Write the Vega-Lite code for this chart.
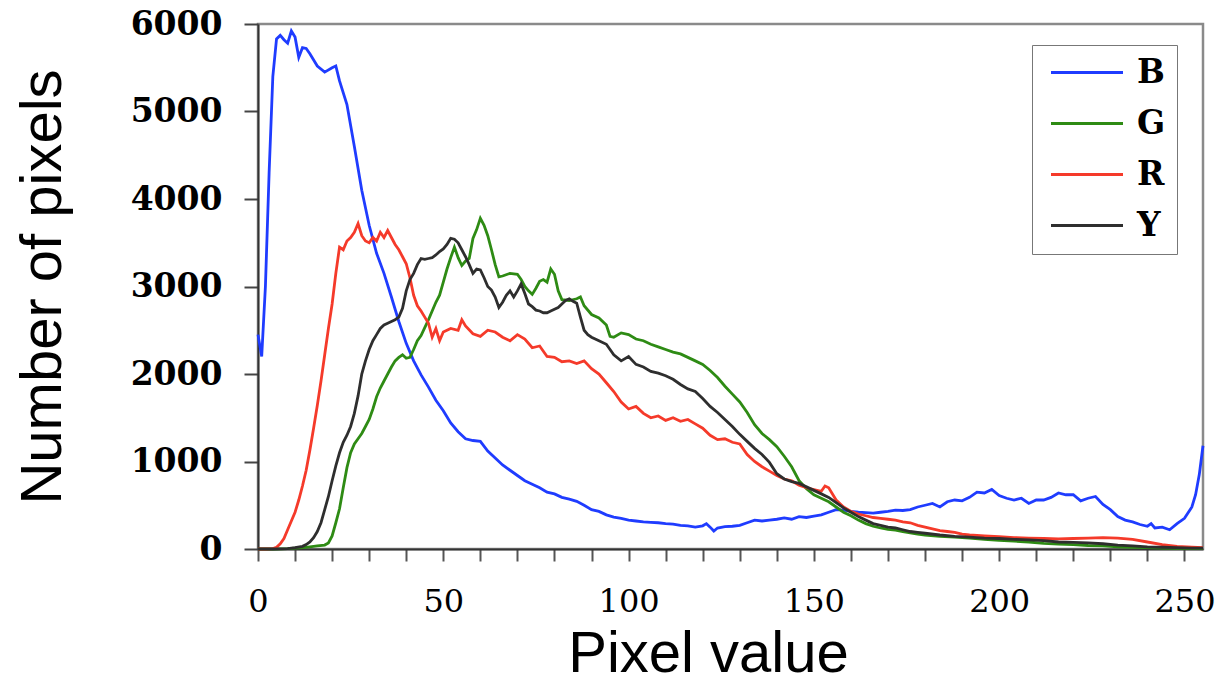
{
  "$schema": "https://vega.github.io/schema/vega-lite/v6.json",
  "width": 945,
  "height": 525,
  "autosize": {"type": "none"},
  "padding": {"left": 258, "top": 24, "right": 18, "bottom": 141},
  "background": "white",
  "config": {"view": {"stroke": "#8a8a8a", "strokeWidth": 2.5}},
  "datasets": {
    "hist": [
      {"s":"B","x":0,"y":2450},{"s":"B","x":1,"y":2200},{"s":"B","x":2,"y":3000},{"s":"B","x":3,"y":4300},{"s":"B","x":4,"y":5400},{"s":"B","x":5,"y":5830},{"s":"B","x":6,"y":5870},{"s":"B","x":7,"y":5820},{"s":"B","x":8,"y":5780},{"s":"B","x":9,"y":5920},{"s":"B","x":10,"y":5850},{"s":"B","x":11,"y":5620},{"s":"B","x":12,"y":5730},{"s":"B","x":13,"y":5720},{"s":"B","x":14,"y":5660},{"s":"B","x":16,"y":5520},{"s":"B","x":18,"y":5450},{"s":"B","x":20,"y":5500},{"s":"B","x":21,"y":5520},{"s":"B","x":22,"y":5350},{"s":"B","x":24,"y":5080},{"s":"B","x":26,"y":4600},{"s":"B","x":28,"y":4100},{"s":"B","x":30,"y":3700},{"s":"B","x":32,"y":3380},{"s":"B","x":34,"y":3150},{"s":"B","x":36,"y":2880},{"s":"B","x":38,"y":2600},{"s":"B","x":40,"y":2350},{"s":"B","x":42,"y":2150},{"s":"B","x":44,"y":1990},{"s":"B","x":46,"y":1850},{"s":"B","x":48,"y":1700},{"s":"B","x":50,"y":1580},{"s":"B","x":52,"y":1440},{"s":"B","x":54,"y":1340},{"s":"B","x":56,"y":1260},{"s":"B","x":58,"y":1240},{"s":"B","x":60,"y":1230},{"s":"B","x":62,"y":1120},{"s":"B","x":64,"y":1040},{"s":"B","x":66,"y":960},{"s":"B","x":68,"y":900},{"s":"B","x":70,"y":840},{"s":"B","x":72,"y":780},{"s":"B","x":74,"y":740},{"s":"B","x":76,"y":700},{"s":"B","x":78,"y":650},{"s":"B","x":80,"y":630},{"s":"B","x":82,"y":590},{"s":"B","x":84,"y":570},{"s":"B","x":86,"y":545},{"s":"B","x":88,"y":500},{"s":"B","x":90,"y":450},{"s":"B","x":92,"y":430},{"s":"B","x":94,"y":390},{"s":"B","x":96,"y":365},{"s":"B","x":98,"y":350},{"s":"B","x":100,"y":330},{"s":"B","x":102,"y":320},{"s":"B","x":104,"y":310},{"s":"B","x":106,"y":305},{"s":"B","x":108,"y":300},{"s":"B","x":110,"y":290},{"s":"B","x":112,"y":285},{"s":"B","x":114,"y":270},{"s":"B","x":116,"y":265},{"s":"B","x":118,"y":250},{"s":"B","x":120,"y":265},{"s":"B","x":121,"y":290},{"s":"B","x":122,"y":250},{"s":"B","x":123,"y":205},{"s":"B","x":124,"y":240},{"s":"B","x":126,"y":255},{"s":"B","x":128,"y":260},{"s":"B","x":130,"y":270},{"s":"B","x":132,"y":300},{"s":"B","x":134,"y":330},{"s":"B","x":136,"y":320},{"s":"B","x":138,"y":330},{"s":"B","x":140,"y":340},{"s":"B","x":142,"y":355},{"s":"B","x":144,"y":340},{"s":"B","x":146,"y":370},{"s":"B","x":148,"y":360},{"s":"B","x":150,"y":375},{"s":"B","x":152,"y":390},{"s":"B","x":154,"y":420},{"s":"B","x":156,"y":450},{"s":"B","x":158,"y":445},{"s":"B","x":160,"y":430},{"s":"B","x":162,"y":420},{"s":"B","x":164,"y":415},{"s":"B","x":166,"y":410},{"s":"B","x":168,"y":420},{"s":"B","x":170,"y":430},{"s":"B","x":172,"y":445},{"s":"B","x":174,"y":440},{"s":"B","x":176,"y":450},{"s":"B","x":178,"y":480},{"s":"B","x":180,"y":500},{"s":"B","x":182,"y":520},{"s":"B","x":184,"y":480},{"s":"B","x":186,"y":540},{"s":"B","x":188,"y":560},{"s":"B","x":190,"y":550},{"s":"B","x":192,"y":590},{"s":"B","x":194,"y":650},{"s":"B","x":196,"y":640},{"s":"B","x":198,"y":680},{"s":"B","x":200,"y":610},{"s":"B","x":202,"y":580},{"s":"B","x":204,"y":560},{"s":"B","x":206,"y":580},{"s":"B","x":208,"y":520},{"s":"B","x":210,"y":560},{"s":"B","x":212,"y":560},{"s":"B","x":214,"y":590},{"s":"B","x":216,"y":640},{"s":"B","x":218,"y":620},{"s":"B","x":220,"y":620},{"s":"B","x":222,"y":550},{"s":"B","x":224,"y":580},{"s":"B","x":226,"y":600},{"s":"B","x":228,"y":510},{"s":"B","x":230,"y":450},{"s":"B","x":232,"y":370},{"s":"B","x":234,"y":330},{"s":"B","x":236,"y":310},{"s":"B","x":238,"y":280},{"s":"B","x":240,"y":260},{"s":"B","x":241,"y":290},{"s":"B","x":242,"y":240},{"s":"B","x":244,"y":250},{"s":"B","x":246,"y":220},{"s":"B","x":248,"y":290},{"s":"B","x":250,"y":350},{"s":"B","x":252,"y":480},{"s":"B","x":253,"y":620},{"s":"B","x":254,"y":850},{"s":"B","x":255,"y":1180},

      {"s":"G","x":0,"y":0},{"s":"G","x":4,"y":0},{"s":"G","x":8,"y":5},{"s":"G","x":12,"y":15},{"s":"G","x":14,"y":25},{"s":"G","x":16,"y":35},{"s":"G","x":18,"y":45},{"s":"G","x":19,"y":70},{"s":"G","x":20,"y":150},{"s":"G","x":21,"y":300},{"s":"G","x":22,"y":460},{"s":"G","x":23,"y":700},{"s":"G","x":24,"y":930},{"s":"G","x":25,"y":1100},{"s":"G","x":26,"y":1200},{"s":"G","x":27,"y":1260},{"s":"G","x":28,"y":1320},{"s":"G","x":29,"y":1400},{"s":"G","x":30,"y":1480},{"s":"G","x":31,"y":1600},{"s":"G","x":32,"y":1740},{"s":"G","x":33,"y":1840},{"s":"G","x":34,"y":1920},{"s":"G","x":35,"y":2000},{"s":"G","x":36,"y":2080},{"s":"G","x":37,"y":2150},{"s":"G","x":38,"y":2190},{"s":"G","x":39,"y":2220},{"s":"G","x":40,"y":2180},{"s":"G","x":41,"y":2190},{"s":"G","x":42,"y":2280},{"s":"G","x":43,"y":2380},{"s":"G","x":44,"y":2440},{"s":"G","x":45,"y":2530},{"s":"G","x":46,"y":2620},{"s":"G","x":47,"y":2720},{"s":"G","x":48,"y":2820},{"s":"G","x":49,"y":2900},{"s":"G","x":50,"y":3050},{"s":"G","x":51,"y":3200},{"s":"G","x":52,"y":3330},{"s":"G","x":53,"y":3450},{"s":"G","x":54,"y":3330},{"s":"G","x":55,"y":3240},{"s":"G","x":56,"y":3290},{"s":"G","x":57,"y":3320},{"s":"G","x":58,"y":3550},{"s":"G","x":59,"y":3650},{"s":"G","x":60,"y":3780},{"s":"G","x":61,"y":3700},{"s":"G","x":62,"y":3580},{"s":"G","x":63,"y":3420},{"s":"G","x":64,"y":3250},{"s":"G","x":65,"y":3110},{"s":"G","x":66,"y":3120},{"s":"G","x":68,"y":3150},{"s":"G","x":70,"y":3140},{"s":"G","x":71,"y":3080},{"s":"G","x":72,"y":3000},{"s":"G","x":73,"y":2950},{"s":"G","x":74,"y":2910},{"s":"G","x":75,"y":2980},{"s":"G","x":76,"y":3060},{"s":"G","x":77,"y":3080},{"s":"G","x":78,"y":3050},{"s":"G","x":79,"y":3200},{"s":"G","x":80,"y":3140},{"s":"G","x":81,"y":2950},{"s":"G","x":82,"y":2850},{"s":"G","x":84,"y":2840},{"s":"G","x":86,"y":2860},{"s":"G","x":87,"y":2880},{"s":"G","x":88,"y":2780},{"s":"G","x":90,"y":2680},{"s":"G","x":92,"y":2640},{"s":"G","x":94,"y":2560},{"s":"G","x":95,"y":2430},{"s":"G","x":96,"y":2420},{"s":"G","x":98,"y":2470},{"s":"G","x":100,"y":2450},{"s":"G","x":102,"y":2400},{"s":"G","x":104,"y":2380},{"s":"G","x":106,"y":2340},{"s":"G","x":108,"y":2310},{"s":"G","x":110,"y":2280},{"s":"G","x":112,"y":2250},{"s":"G","x":114,"y":2230},{"s":"G","x":116,"y":2190},{"s":"G","x":118,"y":2150},{"s":"G","x":120,"y":2110},{"s":"G","x":122,"y":2040},{"s":"G","x":124,"y":1960},{"s":"G","x":126,"y":1860},{"s":"G","x":128,"y":1770},{"s":"G","x":130,"y":1680},{"s":"G","x":132,"y":1560},{"s":"G","x":134,"y":1420},{"s":"G","x":136,"y":1320},{"s":"G","x":138,"y":1250},{"s":"G","x":140,"y":1170},{"s":"G","x":142,"y":1060},{"s":"G","x":144,"y":940},{"s":"G","x":146,"y":780},{"s":"G","x":148,"y":690},{"s":"G","x":150,"y":620},{"s":"G","x":152,"y":580},{"s":"G","x":154,"y":540},{"s":"G","x":156,"y":480},{"s":"G","x":158,"y":420},{"s":"G","x":160,"y":380},{"s":"G","x":162,"y":330},{"s":"G","x":164,"y":290},{"s":"G","x":166,"y":260},{"s":"G","x":168,"y":240},{"s":"G","x":170,"y":225},{"s":"G","x":172,"y":215},{"s":"G","x":174,"y":200},{"s":"G","x":176,"y":185},{"s":"G","x":178,"y":170},{"s":"G","x":180,"y":160},{"s":"G","x":184,"y":145},{"s":"G","x":188,"y":135},{"s":"G","x":192,"y":125},{"s":"G","x":196,"y":110},{"s":"G","x":200,"y":100},{"s":"G","x":204,"y":90},{"s":"G","x":208,"y":80},{"s":"G","x":212,"y":65},{"s":"G","x":216,"y":55},{"s":"G","x":220,"y":50},{"s":"G","x":224,"y":40},{"s":"G","x":228,"y":35},{"s":"G","x":232,"y":25},{"s":"G","x":236,"y":20},{"s":"G","x":240,"y":15},{"s":"G","x":244,"y":10},{"s":"G","x":248,"y":8},{"s":"G","x":252,"y":5},{"s":"G","x":255,"y":5},

      {"s":"R","x":0,"y":0},{"s":"R","x":2,"y":0},{"s":"R","x":4,"y":5},{"s":"R","x":5,"y":20},{"s":"R","x":6,"y":60},{"s":"R","x":7,"y":120},{"s":"R","x":8,"y":220},{"s":"R","x":9,"y":320},{"s":"R","x":10,"y":420},{"s":"R","x":11,"y":560},{"s":"R","x":12,"y":720},{"s":"R","x":13,"y":900},{"s":"R","x":14,"y":1130},{"s":"R","x":15,"y":1380},{"s":"R","x":16,"y":1640},{"s":"R","x":17,"y":1920},{"s":"R","x":18,"y":2220},{"s":"R","x":19,"y":2520},{"s":"R","x":20,"y":2800},{"s":"R","x":21,"y":3150},{"s":"R","x":22,"y":3450},{"s":"R","x":23,"y":3420},{"s":"R","x":24,"y":3520},{"s":"R","x":25,"y":3560},{"s":"R","x":26,"y":3620},{"s":"R","x":27,"y":3720},{"s":"R","x":28,"y":3580},{"s":"R","x":29,"y":3520},{"s":"R","x":30,"y":3500},{"s":"R","x":31,"y":3560},{"s":"R","x":32,"y":3520},{"s":"R","x":33,"y":3620},{"s":"R","x":34,"y":3560},{"s":"R","x":35,"y":3640},{"s":"R","x":36,"y":3560},{"s":"R","x":37,"y":3480},{"s":"R","x":38,"y":3420},{"s":"R","x":39,"y":3340},{"s":"R","x":40,"y":3260},{"s":"R","x":41,"y":3100},{"s":"R","x":42,"y":2900},{"s":"R","x":43,"y":2780},{"s":"R","x":44,"y":2720},{"s":"R","x":45,"y":2650},{"s":"R","x":46,"y":2580},{"s":"R","x":47,"y":2420},{"s":"R","x":48,"y":2520},{"s":"R","x":49,"y":2380},{"s":"R","x":50,"y":2480},{"s":"R","x":52,"y":2520},{"s":"R","x":54,"y":2500},{"s":"R","x":55,"y":2620},{"s":"R","x":56,"y":2550},{"s":"R","x":58,"y":2460},{"s":"R","x":60,"y":2430},{"s":"R","x":62,"y":2500},{"s":"R","x":64,"y":2480},{"s":"R","x":66,"y":2420},{"s":"R","x":68,"y":2380},{"s":"R","x":70,"y":2450},{"s":"R","x":72,"y":2400},{"s":"R","x":74,"y":2300},{"s":"R","x":76,"y":2320},{"s":"R","x":78,"y":2200},{"s":"R","x":80,"y":2190},{"s":"R","x":82,"y":2140},{"s":"R","x":84,"y":2150},{"s":"R","x":86,"y":2120},{"s":"R","x":88,"y":2150},{"s":"R","x":90,"y":2060},{"s":"R","x":92,"y":2000},{"s":"R","x":94,"y":1900},{"s":"R","x":96,"y":1800},{"s":"R","x":98,"y":1680},{"s":"R","x":100,"y":1600},{"s":"R","x":102,"y":1630},{"s":"R","x":104,"y":1550},{"s":"R","x":106,"y":1500},{"s":"R","x":108,"y":1520},{"s":"R","x":110,"y":1470},{"s":"R","x":112,"y":1500},{"s":"R","x":114,"y":1460},{"s":"R","x":116,"y":1480},{"s":"R","x":118,"y":1430},{"s":"R","x":120,"y":1380},{"s":"R","x":122,"y":1300},{"s":"R","x":124,"y":1250},{"s":"R","x":126,"y":1260},{"s":"R","x":128,"y":1220},{"s":"R","x":130,"y":1200},{"s":"R","x":132,"y":1080},{"s":"R","x":134,"y":1000},{"s":"R","x":136,"y":940},{"s":"R","x":138,"y":890},{"s":"R","x":140,"y":840},{"s":"R","x":142,"y":800},{"s":"R","x":144,"y":780},{"s":"R","x":146,"y":730},{"s":"R","x":148,"y":700},{"s":"R","x":150,"y":680},{"s":"R","x":152,"y":660},{"s":"R","x":153,"y":720},{"s":"R","x":154,"y":700},{"s":"R","x":156,"y":560},{"s":"R","x":158,"y":480},{"s":"R","x":160,"y":430},{"s":"R","x":162,"y":400},{"s":"R","x":164,"y":380},{"s":"R","x":166,"y":360},{"s":"R","x":168,"y":350},{"s":"R","x":170,"y":340},{"s":"R","x":172,"y":330},{"s":"R","x":174,"y":310},{"s":"R","x":176,"y":300},{"s":"R","x":178,"y":270},{"s":"R","x":180,"y":250},{"s":"R","x":182,"y":230},{"s":"R","x":184,"y":210},{"s":"R","x":186,"y":200},{"s":"R","x":188,"y":190},{"s":"R","x":190,"y":170},{"s":"R","x":192,"y":160},{"s":"R","x":196,"y":150},{"s":"R","x":200,"y":140},{"s":"R","x":204,"y":130},{"s":"R","x":208,"y":125},{"s":"R","x":212,"y":120},{"s":"R","x":216,"y":115},{"s":"R","x":220,"y":120},{"s":"R","x":224,"y":125},{"s":"R","x":228,"y":130},{"s":"R","x":232,"y":125},{"s":"R","x":236,"y":110},{"s":"R","x":240,"y":80},{"s":"R","x":244,"y":50},{"s":"R","x":248,"y":30},{"s":"R","x":252,"y":20},{"s":"R","x":255,"y":15},

      {"s":"Y","x":0,"y":0},{"s":"Y","x":4,"y":0},{"s":"Y","x":8,"y":5},{"s":"Y","x":10,"y":15},{"s":"Y","x":12,"y":30},{"s":"Y","x":13,"y":50},{"s":"Y","x":14,"y":80},{"s":"Y","x":15,"y":130},{"s":"Y","x":16,"y":200},{"s":"Y","x":17,"y":300},{"s":"Y","x":18,"y":450},{"s":"Y","x":19,"y":600},{"s":"Y","x":20,"y":780},{"s":"Y","x":21,"y":950},{"s":"Y","x":22,"y":1100},{"s":"Y","x":23,"y":1220},{"s":"Y","x":24,"y":1300},{"s":"Y","x":25,"y":1400},{"s":"Y","x":26,"y":1550},{"s":"Y","x":27,"y":1750},{"s":"Y","x":28,"y":2000},{"s":"Y","x":29,"y":2150},{"s":"Y","x":30,"y":2280},{"s":"Y","x":31,"y":2380},{"s":"Y","x":32,"y":2450},{"s":"Y","x":33,"y":2520},{"s":"Y","x":34,"y":2560},{"s":"Y","x":35,"y":2580},{"s":"Y","x":36,"y":2600},{"s":"Y","x":37,"y":2620},{"s":"Y","x":38,"y":2650},{"s":"Y","x":39,"y":2750},{"s":"Y","x":40,"y":2950},{"s":"Y","x":41,"y":3080},{"s":"Y","x":42,"y":3150},{"s":"Y","x":43,"y":3250},{"s":"Y","x":44,"y":3320},{"s":"Y","x":45,"y":3310},{"s":"Y","x":46,"y":3320},{"s":"Y","x":47,"y":3330},{"s":"Y","x":48,"y":3360},{"s":"Y","x":49,"y":3400},{"s":"Y","x":50,"y":3430},{"s":"Y","x":51,"y":3480},{"s":"Y","x":52,"y":3550},{"s":"Y","x":53,"y":3540},{"s":"Y","x":54,"y":3500},{"s":"Y","x":55,"y":3420},{"s":"Y","x":56,"y":3340},{"s":"Y","x":57,"y":3250},{"s":"Y","x":58,"y":3150},{"s":"Y","x":59,"y":3200},{"s":"Y","x":60,"y":3190},{"s":"Y","x":61,"y":3100},{"s":"Y","x":62,"y":3000},{"s":"Y","x":63,"y":2960},{"s":"Y","x":64,"y":2880},{"s":"Y","x":65,"y":2760},{"s":"Y","x":66,"y":2820},{"s":"Y","x":67,"y":2900},{"s":"Y","x":68,"y":2950},{"s":"Y","x":69,"y":2880},{"s":"Y","x":70,"y":2950},{"s":"Y","x":71,"y":3030},{"s":"Y","x":72,"y":2920},{"s":"Y","x":73,"y":2800},{"s":"Y","x":74,"y":2770},{"s":"Y","x":75,"y":2730},{"s":"Y","x":76,"y":2720},{"s":"Y","x":77,"y":2700},{"s":"Y","x":78,"y":2700},{"s":"Y","x":79,"y":2720},{"s":"Y","x":80,"y":2740},{"s":"Y","x":81,"y":2760},{"s":"Y","x":82,"y":2800},{"s":"Y","x":83,"y":2840},{"s":"Y","x":84,"y":2860},{"s":"Y","x":85,"y":2830},{"s":"Y","x":86,"y":2810},{"s":"Y","x":87,"y":2650},{"s":"Y","x":88,"y":2500},{"s":"Y","x":89,"y":2450},{"s":"Y","x":90,"y":2420},{"s":"Y","x":92,"y":2380},{"s":"Y","x":94,"y":2340},{"s":"Y","x":96,"y":2220},{"s":"Y","x":98,"y":2150},{"s":"Y","x":100,"y":2200},{"s":"Y","x":102,"y":2110},{"s":"Y","x":104,"y":2080},{"s":"Y","x":106,"y":2030},{"s":"Y","x":108,"y":2010},{"s":"Y","x":110,"y":1980},{"s":"Y","x":112,"y":1940},{"s":"Y","x":114,"y":1880},{"s":"Y","x":116,"y":1830},{"s":"Y","x":118,"y":1800},{"s":"Y","x":120,"y":1720},{"s":"Y","x":122,"y":1630},{"s":"Y","x":124,"y":1560},{"s":"Y","x":126,"y":1480},{"s":"Y","x":128,"y":1400},{"s":"Y","x":130,"y":1310},{"s":"Y","x":132,"y":1230},{"s":"Y","x":134,"y":1150},{"s":"Y","x":136,"y":1080},{"s":"Y","x":138,"y":990},{"s":"Y","x":140,"y":860},{"s":"Y","x":142,"y":800},{"s":"Y","x":144,"y":770},{"s":"Y","x":146,"y":750},{"s":"Y","x":148,"y":710},{"s":"Y","x":150,"y":670},{"s":"Y","x":152,"y":630},{"s":"Y","x":154,"y":590},{"s":"Y","x":156,"y":530},{"s":"Y","x":158,"y":470},{"s":"Y","x":160,"y":420},{"s":"Y","x":162,"y":370},{"s":"Y","x":164,"y":330},{"s":"Y","x":166,"y":290},{"s":"Y","x":168,"y":270},{"s":"Y","x":170,"y":250},{"s":"Y","x":172,"y":240},{"s":"Y","x":174,"y":220},{"s":"Y","x":176,"y":200},{"s":"Y","x":178,"y":190},{"s":"Y","x":180,"y":180},{"s":"Y","x":184,"y":160},{"s":"Y","x":188,"y":145},{"s":"Y","x":192,"y":135},{"s":"Y","x":196,"y":125},{"s":"Y","x":200,"y":120},{"s":"Y","x":204,"y":110},{"s":"Y","x":208,"y":105},{"s":"Y","x":212,"y":95},{"s":"Y","x":216,"y":80},{"s":"Y","x":220,"y":75},{"s":"Y","x":224,"y":70},{"s":"Y","x":228,"y":60},{"s":"Y","x":232,"y":45},{"s":"Y","x":236,"y":35},{"s":"Y","x":240,"y":25},{"s":"Y","x":244,"y":20},{"s":"Y","x":248,"y":15},{"s":"Y","x":252,"y":10},{"s":"Y","x":255,"y":10}
    ]
  },
  "data": {"name": "hist"},
  "mark": {"type": "line", "strokeWidth": 2.8, "interpolate": "linear"},
  "encoding": {
    "x": {
      "field": "x", "type": "quantitative",
      "scale": {"domain": [0, 255], "nice": false, "zero": false},
      "axis": {
        "title": "Pixel value",
        "values": [0,10,20,30,40,50,60,70,80,90,100,110,120,130,140,150,160,170,180,190,200,210,220,230,240,250],
        "labelExpr": "datum.value % 50 === 0 ? datum.label : ''",
        "labelOverlap": false, "labelFlush": false,
        "grid": false, "tickSize": 12, "tickWidth": 2, "tickColor": "#555",
        "domainColor": "#333", "domainWidth": 2,
        "labelFont": "DejaVu Serif", "labelFontSize": 32, "labelColor": "#000", "labelPadding": 25,
        "titleFont": "Liberation Sans", "titleFontSize": 58, "titleFontWeight": "normal", "titleColor": "#000",
        "titlePadding": 8, "titleX": 450
      }
    },
    "y": {
      "field": "y", "type": "quantitative",
      "scale": {"domain": [0, 6000], "nice": false},
      "axis": {
        "title": "Number of pixels",
        "values": [0,1000,2000,3000,4000,5000,6000],
        "format": "d",
        "labelOverlap": false, "labelFlush": false,
        "grid": false, "tickSize": 14, "tickWidth": 2, "tickColor": "#444",
        "domainColor": "#333", "domainWidth": 2,
        "labelFont": "DejaVu Serif", "labelFontWeight": "bold", "labelFontSize": 33, "labelColor": "#000", "labelPadding": 22,
        "titleFont": "Liberation Sans", "titleFontSize": 58, "titleFontWeight": "normal", "titleColor": "#000",
        "titlePadding": 58
      }
    },
    "color": {
      "field": "s", "type": "nominal",
      "scale": {"domain": ["B","G","R","Y"], "range": ["#1f3cff","#2e8b14","#f53a2a","#2e2e2e"]},
      "legend": {
        "title": null, "orient": "none", "legendX": 774, "legendY": 21,
        "padding": 11, "rowPadding": 17, "labelOffset": 61,
        "symbolType": "M-0.85,0H6.35", "symbolSize": 400, "symbolStrokeWidth": 3,
        "labelFont": "DejaVu Serif", "labelFontWeight": "bold", "labelFontSize": 33, "labelColor": "#000",
        "strokeColor": "#777", "fillColor": "white"
      }
    }
  }
}
